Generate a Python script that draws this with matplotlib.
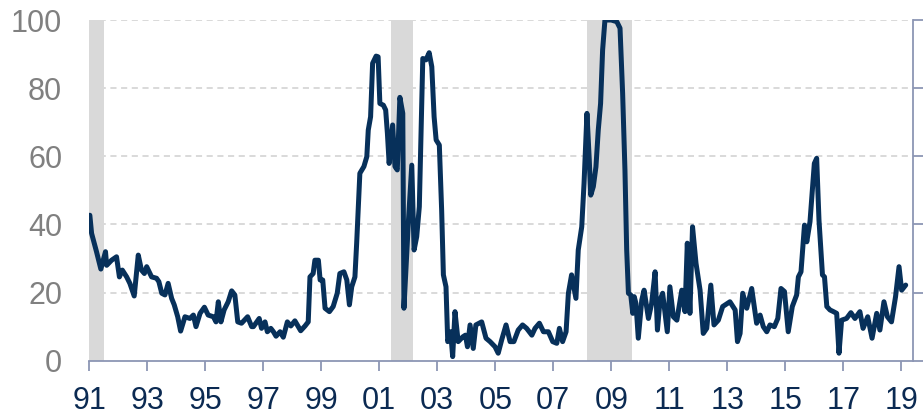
import matplotlib
matplotlib.use("Agg")
import matplotlib.pyplot as plt
import numpy as np

# ---- data (decimal year, value) ----
dates = [
    1991.02, 1991.08, 1991.25, 1991.40, 1991.56, 1991.60, 1991.77, 1991.94,
    1992.04, 1992.14, 1992.29, 1992.40, 1992.55, 1992.69, 1992.80, 1992.90, 1992.98,
    1993.15, 1993.32, 1993.40, 1993.50, 1993.61, 1993.72, 1993.84, 1993.93,
    1994.05, 1994.15, 1994.30, 1994.47, 1994.59, 1994.68, 1994.82, 1994.97,
    1995.10, 1995.28, 1995.37, 1995.45, 1995.54, 1995.65, 1995.79, 1995.91,
    1996.02, 1996.12, 1996.25, 1996.46, 1996.60, 1996.66, 1996.86, 1996.94,
    1997.06, 1997.14, 1997.26, 1997.35, 1997.44, 1997.58, 1997.69, 1997.83, 1997.95,
    1998.09, 1998.29, 1998.44, 1998.55, 1998.61, 1998.72, 1998.78, 1998.90, 1998.96,
    1999.05, 1999.13, 1999.28, 1999.41, 1999.55, 1999.64, 1999.78, 1999.88, 1999.97,
    2000.05, 2000.16, 2000.22, 2000.33, 2000.47, 2000.57, 2000.62, 2000.70, 2000.77,
    2000.89, 2000.96, 2001.02, 2001.14, 2001.22, 2001.28, 2001.34, 2001.46, 2001.54,
    2001.62, 2001.71, 2001.81, 2001.85, 2002.00, 2002.12, 2002.20, 2002.29, 2002.38,
    2002.50, 2002.61, 2002.72, 2002.81, 2002.89, 2002.96, 2003.07, 2003.15, 2003.21,
    2003.30, 2003.36, 2003.46, 2003.53, 2003.61, 2003.72, 2003.88, 2003.97,
    2004.04, 2004.13, 2004.24, 2004.33, 2004.53, 2004.68, 2004.82, 2004.99,
    2005.10, 2005.22, 2005.37, 2005.51, 2005.64, 2005.79, 2005.94,
    2006.08, 2006.26, 2006.37, 2006.52, 2006.66, 2006.83, 2006.98,
    2007.12, 2007.21, 2007.32, 2007.44, 2007.52, 2007.63, 2007.78, 2007.86, 2007.98,
    2008.06, 2008.16, 2008.24, 2008.29, 2008.38, 2008.47, 2008.55, 2008.63, 2008.70,
    2008.78, 2009.00, 2009.19, 2009.30, 2009.39, 2009.47, 2009.53, 2009.59, 2009.67,
    2009.74, 2009.79, 2009.85, 2009.93, 2010.05, 2010.13, 2010.28, 2010.39, 2010.51,
    2010.59, 2010.68, 2010.77, 2010.93, 2011.02, 2011.14, 2011.26, 2011.43, 2011.54,
    2011.62, 2011.71, 2011.80, 2011.92, 2012.06, 2012.17, 2012.29, 2012.43, 2012.54,
    2012.69, 2012.84, 2013.09, 2013.27, 2013.35, 2013.44, 2013.53, 2013.67, 2013.84,
    2014.01, 2014.13, 2014.24, 2014.36, 2014.47, 2014.62, 2014.74, 2014.85, 2014.97,
    2015.10, 2015.24, 2015.39, 2015.45, 2015.54, 2015.66, 2015.74, 2015.85, 2016.00,
    2016.08, 2016.16, 2016.28, 2016.35, 2016.43, 2016.54, 2016.66, 2016.77, 2016.85,
    2016.94, 2017.11, 2017.26, 2017.40, 2017.57, 2017.68, 2017.84, 2017.99,
    2018.15, 2018.26, 2018.40, 2018.52, 2018.66, 2018.80, 2018.92, 2019.01, 2019.15,
]
values = [
    42.7, 37.4, 32.0, 26.9, 32.0, 28.0, 29.5, 30.5,
    24.6, 26.6, 24.6, 22.7, 19.0, 31.0, 26.6, 25.6, 27.6,
    24.6, 24.2, 23.2, 19.8, 19.3, 22.7, 18.3, 16.4,
    12.9, 8.7, 12.9, 12.4, 13.4, 10.0, 13.9, 15.7,
    13.4, 12.9, 11.4, 17.3, 11.4, 14.9, 17.3, 20.5,
    19.3, 11.4, 11.0, 12.9, 10.0, 10.0, 12.4, 9.5,
    11.4, 8.5, 9.5, 8.5, 7.2, 8.5, 6.9, 11.4, 10.2,
    11.7, 8.8, 10.2, 11.4, 24.6, 25.6, 29.5, 29.5, 23.7,
    23.7, 15.4, 14.4, 15.9, 19.8, 25.6, 26.1, 23.7, 16.4,
    21.7, 24.6, 34.5, 55.0, 57.0, 59.9, 67.7, 71.6, 87.3,
    89.4, 89.2, 75.5, 75.0, 73.6, 66.7, 57.9, 69.2, 57.0,
    56.0, 77.3, 72.6, 15.4, 40.3, 57.4, 32.5, 36.4, 45.2,
    88.7, 88.3, 90.4, 86.3, 71.6, 64.8, 63.3, 44.2, 25.2,
    21.7, 5.6, 8.5, 1.2, 14.4, 5.6, 7.0, 7.5,
    4.1, 10.5, 3.6, 10.5, 11.4, 6.6, 5.6, 4.1,
    2.2, 6.1, 10.5, 5.6, 5.6, 9.0, 10.5,
    9.5, 7.5, 9.5, 11.0, 8.5, 8.5, 5.6,
    5.1, 9.5, 5.6, 8.5, 19.8, 25.2, 18.3, 32.5, 39.3,
    52.1, 72.6, 58.9, 48.6, 51.1, 56.9, 67.7, 75.5, 91.2,
    100.0, 100.0, 99.5, 97.6, 78.5, 56.0, 32.5, 19.8, 19.3,
    13.9, 18.8, 16.8, 6.6, 17.8, 20.7, 12.4, 16.8, 26.1,
    9.0, 17.8, 19.8, 8.5, 21.7, 12.9, 11.9, 20.7, 14.4,
    34.5, 13.9, 39.3, 28.6, 20.7, 8.0, 9.5, 22.2, 10.5,
    11.9, 15.9, 17.3, 14.9, 5.6, 8.0, 19.8, 15.4, 21.2,
    11.0, 13.4, 10.0, 8.5, 10.5, 10.0, 12.4, 21.2, 20.3,
    8.5, 15.9, 19.3, 24.6, 26.1, 39.8, 34.9, 40.8, 57.9,
    59.4, 41.3, 25.2, 24.6, 15.9, 14.9, 14.4, 13.9, 2.2,
    11.9, 12.4, 14.1, 12.4, 14.4, 9.5, 12.9, 6.6,
    13.9, 9.0, 17.3, 12.9, 11.4, 18.8, 27.6, 20.7, 22.2,
]

recession_start = [1991.0, 2001.40, 2008.17]
recession_end = [1991.5, 2002.15, 2009.72]

x_ticks = list(range(1991, 2020, 2))
x_labels = [f"{y % 100:02d}" for y in x_ticks]
y_ticks = [0, 20, 40, 60, 80, 100]

# ---- figure ----
plt.rcParams['font.family'] = ['Liberation Sans', 'DejaVu Sans']
fig = plt.figure(figsize=(9.23, 4.16), dpi=100)
ax = fig.add_axes([0.0967, 0.1329, 0.8921, 0.8190])

line_color = '#07305a'
axis_color = '#8c96b4'

for s, e in zip(recession_start, recession_end):
    ax.axvspan(s, e, color='#d9d9d9', lw=0, zorder=1)

for yv in y_ticks[1:]:
    ax.axhline(yv, color='#d0d0d0', lw=1.1, ls=(0, (4, 3)), zorder=0.5)

ax.plot(dates, values, color=line_color, lw=3.6, solid_joinstyle='round',
        solid_capstyle='round', zorder=3, clip_on=True)

ax.set_xlim(1991.0, 2019.39)
ax.set_ylim(0, 100)

ax.set_xticks(x_ticks)
ax.set_xticklabels(x_labels, color='#0b2a52', fontsize=22)
ax.set_yticks(y_ticks)
ax.set_yticklabels([str(v) for v in y_ticks], color='#808080', fontsize=22)

ax.tick_params(axis='x', direction='out', length=7, width=1.3, color=axis_color, pad=11)
ax.tick_params(axis='y', left=False, right=True, labelleft=True, labelright=False,
               direction='out', length=7, width=1.3, color=axis_color, pad=12.5)

for side in ['top', 'left']:
    ax.spines[side].set_visible(False)
for side in ['bottom', 'right']:
    ax.spines[side].set_color(axis_color)
    ax.spines[side].set_linewidth(1.3)
    ax.spines[side].set_zorder(4)

fig.savefig('out.png', dpi=100)
